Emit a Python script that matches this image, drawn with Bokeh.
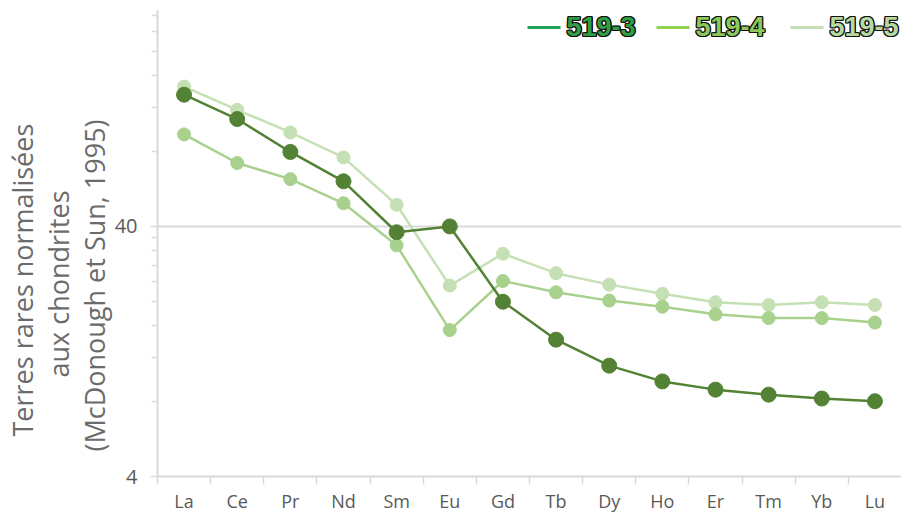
from bokeh.plotting import figure
from bokeh.models import (Range1d, FixedTicker, Label, BoxAnnotation, ColumnDataSource, Title)
from bokeh.embed import file_html
from bokeh.resources import INLINE

# ---------------- data ----------------
elements = ["La", "Ce", "Pr", "Nd", "Sm", "Eu", "Gd", "Tb", "Dy", "Ho", "Er", "Tm", "Yb", "Lu"]
s519_3 = [134.5, 107.5, 79.4, 60.6, 37.9, 40.0, 20.0, 14.1, 11.1, 9.6, 8.9, 8.5, 8.2, 8.0]
s519_4 = [93.3, 71.7, 61.8, 49.5, 33.6, 15.4, 24.2, 21.8, 20.2, 19.1, 17.8, 17.2, 17.2, 16.5]
s519_5 = [145.0, 117.0, 95.0, 75.5, 48.8, 23.2, 31.1, 26.0, 23.4, 21.5, 19.9, 19.4, 19.9, 19.4]
series_names = ["519-3", "519-4", "519-5"]
y_major = [4, 40]
y_minor = [8, 12, 16, 20, 24, 28, 32, 36, 80, 120, 160, 200, 240, 280]
title_lines = ["Terres rares normalisées", "aux chondrites", "(McDonough et Sun, 1995)"]

xi = list(range(len(elements)))

GRID = "#D9D9D9"
TXT = "#595959"

p = figure(width=901, height=517, output_backend="svg", toolbar_location=None,
           y_axis_type="log",
           x_range=Range1d(-0.5, len(elements) - 0.5),
           y_range=Range1d(4, 292),
           min_border_left=157, min_border_right=0, min_border_top=10, min_border_bottom=41)
p.outline_line_color = None
p.background_fill_color = "white"
p.border_fill_color = "white"

# x axis (categories at integer positions, ticks at boundaries)
p.xaxis.ticker = FixedTicker(ticks=xi, minor_ticks=[i - 0.5 for i in xi])
p.xaxis.major_label_overrides = {i: e for i, e in zip(xi, elements)}
p.xaxis.major_tick_line_color = None
p.xaxis.major_tick_out = 8
p.xaxis.major_tick_in = 0
p.xaxis.minor_tick_line_color = GRID
p.xaxis.minor_tick_line_width = 1.5
p.xaxis.minor_tick_out = 8
p.xaxis.minor_tick_in = 0
p.xaxis.axis_line_color = GRID
p.xaxis.axis_line_width = 2
p.xaxis.major_label_text_font = "Open Sans"
p.xaxis.major_label_text_font_size = "18px"
p.xaxis.major_label_text_color = TXT
p.xaxis.major_label_standoff = 4

# y axis
p.yaxis.ticker = FixedTicker(ticks=y_major, minor_ticks=y_minor)
p.yaxis.major_label_overrides = {v: str(v) for v in y_major}
p.yaxis.axis_line_color = GRID
p.yaxis.axis_line_width = 2
p.yaxis.major_tick_line_color = GRID
p.yaxis.major_tick_line_width = 1.5
p.yaxis.major_tick_out = 7
p.yaxis.major_tick_in = 0
p.yaxis.minor_tick_line_color = GRID
p.yaxis.minor_tick_line_width = 1.5
p.yaxis.minor_tick_out = 6
p.yaxis.minor_tick_in = 0
p.yaxis.major_label_text_font = "Open Sans"
p.yaxis.major_label_text_font_size = "20px"
p.yaxis.major_label_text_color = TXT
p.yaxis.major_label_standoff = 13

p.xgrid.grid_line_color = None
p.ygrid.ticker = FixedTicker(ticks=y_major)
p.ygrid.grid_line_color = GRID
p.ygrid.grid_line_width = 2

# series (lightest drawn first)
styles = {
    "519-5": dict(data=s519_5, color="#C5E0B4", size=13, lw=2.5),
    "519-4": dict(data=s519_4, color="#A9D18E", size=13, lw=2.5),
    "519-3": dict(data=s519_3, color="#548235", size=15, lw=2.5),
}
for name in ["519-5", "519-4", "519-3"]:
    st = styles[name]
    src = ColumnDataSource(dict(x=xi, y=st["data"]))
    p.line("x", "y", source=src, line_color=st["color"], line_width=st["lw"])
    p.scatter("x", "y", source=src, size=st["size"], fill_color=st["color"],
              line_color=st["color"])

# y axis title: three rotated title lines on the left (innermost added first)
title_offsets = [40, 99, 25]
for t, off in reversed(list(zip(title_lines, title_offsets))):
    p.add_layout(Title(text=t, align="left", offset=off, standoff=-3,
                       text_font="Open Sans", text_font_style="normal",
                       text_font_size="27px", text_color="#6B6B6B"), "left")

# legend (screen units relative to the plot frame)
leg_line_cols = ["#1FA35A", "#92D050", "#C5E0B4"]
leg_text_cols = ["#2E9E44", "#8CC95A", "#B6D8A2"]
leg_x = [370, 499, 633]
for name, lc, tc, lx in zip(series_names, leg_line_cols, leg_text_cols, leg_x):
    p.add_layout(BoxAnnotation(left=lx, right=lx + 33, bottom=447.5, top=450.5,
                               left_units="screen", right_units="screen",
                               bottom_units="screen", top_units="screen",
                               fill_color=lc, fill_alpha=1, line_color=None))
    for dx, dy in [(-1.2, 0), (1.2, 0), (0, -1.2), (0, 1.2), (-1, -1), (1, 1), (-1, 1), (1, -1)]:
        p.add_layout(Label(x=lx + 39 + dx, y=450 + dy, x_units="screen", y_units="screen",
                           text=name, text_align="left", text_baseline="middle",
                           text_font="Liberation Sans", text_font_style="bold",
                           text_font_size="27px", text_color="#111111"))
    p.add_layout(Label(x=lx + 39, y=450, x_units="screen", y_units="screen",
                       text=name, text_align="left", text_baseline="middle",
                       text_font="Liberation Sans", text_font_style="bold",
                       text_font_size="27px", text_color=tc))

open("out.html", "w").write(file_html(p, INLINE))
